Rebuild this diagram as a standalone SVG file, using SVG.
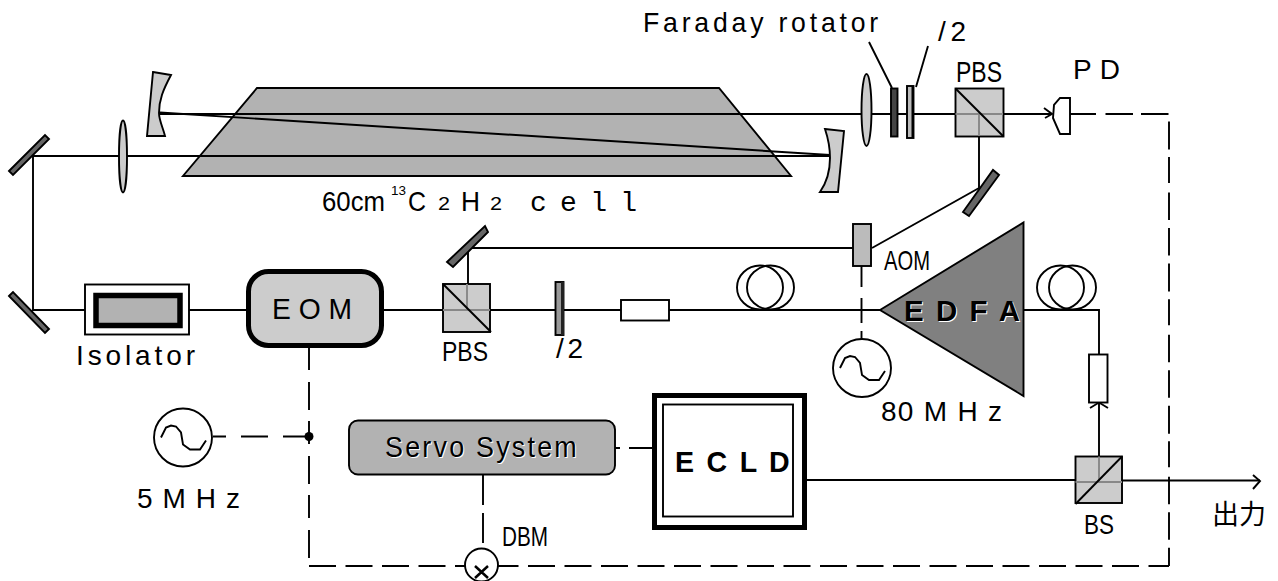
<svg xmlns="http://www.w3.org/2000/svg" width="1278" height="581" viewBox="0 0 1278 581">
<style>
.l{fill:none;stroke:#000;stroke-width:1.9}
.d{fill:none;stroke:#000;stroke-width:1.9}
.m{fill:#666;stroke:#000;stroke-width:1.9}
.g{fill:#ccc;stroke:#000;stroke-width:1.9}
.w{fill:#fff;stroke:#000;stroke-width:1.9}
.i{stroke:#888;stroke-width:1.9;fill:none}
text{font-family:"Liberation Sans",Arial,"Noto Sans CJK JP",sans-serif;fill:#000;font-size:28px}
.b{font-weight:bold;font-size:30px}
.h{fill:#fff}
</style>
<defs>
<g id="osc"><circle r="29" fill="#fff" stroke="#000" stroke-width="1.900"/><polyline class="l" points="-22,0 -17,-10 -12,-12 -7,-11 -2,-5 0,7 7,12 17,12 23,3"/></g>
</defs>
<g id="cell"><path d="M257,88 H719 L791,176 H183 Z" fill="#b2b2b2" stroke="#000" stroke-width="1.900"/></g>
<g id="connectors">
<path class="l" d="M160,114 H955"/>
<path class="l" d="M160,112.500 L830,155"/>
<path class="l" d="M33,156 H830"/>
<path class="l" d="M33,156 V310 H246"/>
<path class="l" d="M382,310 H443"/>
<path class="l" d="M490,310 H880"/>
<path class="l" d="M1003,114 H1052"/>
<path class="l" d="M1044,108 L1052,114 L1045,118"/>
<path class="l" d="M979,136 V188 L872,248"/>
<path class="l" d="M853,248 H468 V284"/>
<path class="l" d="M1023,310 H1099 V354"/>
<path class="l" d="M1099,456 V403"/>
<path class="l" d="M1090,408 L1099,402.500 L1108,408"/>
<path class="l" d="M806,480 H1075"/>
<path class="l" d="M1122,480.500 H1260"/>
<path class="l" d="M1253,475 L1260,481 L1253,489"/>
<path class="d" d="M1070,114 H1169 V566" stroke-dasharray="26 9.500 27.500 8 27.500 8 28 7.600"/>
<path class="d" d="M309,347 V566" stroke-dasharray="23 12 28 11"/>
<path class="d" d="M309,566 H1169" stroke-dasharray="27 9.500"/>
<path class="d" d="M213,436.500 H309" stroke-dasharray="13 15 27 15 27"/>
<path class="d" d="M615,448 H653" stroke-dasharray="5 9 25"/>
<path class="d" d="M483,475 V549" stroke-dasharray="30 8"/>
<path class="d" d="M861.500,266 V340" stroke-dasharray="21 11 25 8 12"/>
</g>
<g id="mirror1"><polygon class="m" points="9,171 45,135 49,139 13,175"/></g>
<g id="mirror2"><polygon class="m" points="9,296 13,292 49,329 45,333"/></g>
<g id="mirror3"><polygon class="m" points="447,262 485,226 488,232 453,267"/></g>
<g id="mirror4"><polygon class="m" points="963,212 993,170 999,175 969,216"/></g>
<g id="lens1"><ellipse class="g" cx="123" cy="156.500" rx="4" ry="36"/></g>
<g id="lens2"><ellipse class="g" cx="866.500" cy="110" rx="5" ry="36"/></g>
<g id="mirrorL"><path class="g" d="M153,72 L171,75 C163,90 159,100 159,113 C159,120 163,128 165,136 H147 Z"/></g>
<g id="mirrorR"><path class="g" d="M825,129 L844,131 L838,192 H820 C827,182 830,172 830,158 C830,148 828,138 825,129 Z"/></g>
<g id="faraday"><rect x="891" y="88.500" width="6.500" height="48" fill="#444" stroke="#000" stroke-width="1.900"/></g>
<g id="wp1"><rect x="907" y="86" width="6.500" height="52" fill="#bbb" stroke="#000" stroke-width="1.900"/><rect x="911.500" y="86" width="2" height="52"/></g>
<g id="pbs1"><rect class="g" x="955.500" y="88.500" width="48" height="48"/><path class="i" d="M955.500,114 H1003 M979,114 V136"/><path class="l" d="M955.500,88.500 L1003.500,136.500"/></g>
<g id="pd"><path class="w" d="M1070,98 H1060 L1054,105 L1053,118 L1060,134 H1070 Z"/></g>
<g id="aom"><rect x="853" y="224" width="18" height="42" fill="#bbb" stroke="#000" stroke-width="1.900"/></g>
<g id="osc80"><use href="#osc" x="862" y="368"/></g>
<g id="osc5"><use href="#osc" x="183" y="437.500"/></g>
<g id="dot"><circle cx="309" cy="436.500" r="4.500"/></g>
<g id="isolator"><rect class="w" x="85" y="284.500" width="104" height="50"/><rect x="96" y="295.500" width="84" height="30" fill="#b2b2b2" stroke="#000" stroke-width="5.500"/></g>
<g id="eom"><rect x="248.500" y="271.500" width="133" height="74" rx="20" fill="#ccc" stroke="#000" stroke-width="5"/></g>
<g id="pbs2"><rect class="g" x="443" y="284" width="47" height="48"/><path class="i" d="M443,310 H490 M467,284 V310"/><path class="l" d="M443,284 L491,332"/></g>
<g id="wp2"><rect x="555.500" y="282" width="8" height="53" fill="#999" stroke="#000" stroke-width="1.900"/><rect x="561" y="282" width="3" height="53" fill="#222"/></g>
<g id="resistor1"><rect class="w" x="621" y="300" width="48" height="20.500"/></g>
<g id="coil1"><ellipse class="l" cx="760" cy="287.500" rx="23" ry="22"/><ellipse class="l" cx="770.500" cy="287.500" rx="23.500" ry="22"/></g>
<g id="coil2"><ellipse class="l" cx="1060.500" cy="287.500" rx="23.500" ry="22"/><ellipse class="l" cx="1072.500" cy="287.500" rx="23.500" ry="22"/></g>
<g id="edfa"><polygon points="880,310 1023.500,222.500 1023.500,396" fill="#808080" stroke="#000" stroke-width="1.900"/></g>
<g id="resistor2"><rect class="w" x="1089" y="354.500" width="18.500" height="48"/></g>
<g id="bs"><rect class="g" x="1075.500" y="456.500" width="46.500" height="46.500"/><path class="i" d="M1075.500,482 H1122 M1099,456.500 V482"/><path class="l" d="M1075.500,504 L1122,456.500"/></g>
<g id="servo"><rect x="349" y="420.500" width="266" height="54" rx="9" fill="#b2b2b2" stroke="#000" stroke-width="1.900"/></g>
<g id="ecld"><rect x="654.500" y="395.500" width="150" height="132" fill="#fff" stroke="#000" stroke-width="5"/><rect x="663" y="404.500" width="130" height="112" class="l"/></g>
<g id="dbm"><circle class="w" cx="481.500" cy="565" r="16.500"/><path d="M475,566 L488,578 M488,566 L475,578" stroke="#000" stroke-width="2.500"/></g>
<g id="labels">
<text x="643" y="32" textLength="239" lengthAdjust="spacingAndGlyphs" letter-spacing="4">Faraday rotator</text>
<path class="l" d="M869,42 L892,88 M928,46 L916,87"/>
<text x="938" y="41" textLength="28">/2</text>
<text x="956" y="82" style="font-size:29px" textLength="46" lengthAdjust="spacingAndGlyphs">PBS</text>
<text x="1073" y="79" textLength="47">P D</text>
<text x="322" y="211" textLength="63" lengthAdjust="spacingAndGlyphs">60cm</text>
<text x="391" y="195" style="font-size:13px" textLength="15" lengthAdjust="spacingAndGlyphs">13</text>
<text x="408" y="211" textLength="18" lengthAdjust="spacingAndGlyphs">C</text>
<text x="438" y="210" style="font-size:18px" textLength="12" lengthAdjust="spacingAndGlyphs">2</text>
<text x="461" y="211" textLength="19" lengthAdjust="spacingAndGlyphs">H</text>
<text x="490" y="210" style="font-size:18px" textLength="12" lengthAdjust="spacingAndGlyphs">2</text>
<text x="530" y="211" style="font-family:'Liberation Mono',monospace;font-size:28px" textLength="107">c e l l</text>
<text x="884" y="270" textLength="46" lengthAdjust="spacingAndGlyphs">AOM</text>
<text x="76" y="365" textLength="119">Isolator</text>
<text x="272" y="319" style="font-size:30px" textLength="80" lengthAdjust="spacingAndGlyphs">E O M</text>
<text x="442" y="361" textLength="46" lengthAdjust="spacingAndGlyphs">PBS</text>
<text x="556" y="358" textLength="27">/2</text>
<text x="137" y="508" textLength="103">5 M H z</text>
<text class="h" x="386" y="458" style="font-size:29px" textLength="194" lengthAdjust="spacingAndGlyphs" letter-spacing="2.400">Servo System</text>
<text x="385" y="457" style="font-size:29px" textLength="194" lengthAdjust="spacingAndGlyphs" letter-spacing="2.400">Servo System</text>
<text class="b" x="675" y="472" textLength="117" lengthAdjust="spacingAndGlyphs" letter-spacing="2.400">E C L D</text>
<text class="h b" x="905" y="322" textLength="118" lengthAdjust="spacingAndGlyphs" letter-spacing="2.100">E D F A</text>
<text class="b" x="904" y="321" textLength="118" lengthAdjust="spacingAndGlyphs" letter-spacing="2.100">E D F A</text>
<text x="881" y="421" textLength="121">80 M H z</text>
<text x="1084" y="534" textLength="30" lengthAdjust="spacingAndGlyphs">BS</text>
<text x="1212" y="524" style="font-size:27px">出力</text>
<text x="502" y="546" textLength="46" lengthAdjust="spacingAndGlyphs">DBM</text>
</g>
</svg>
